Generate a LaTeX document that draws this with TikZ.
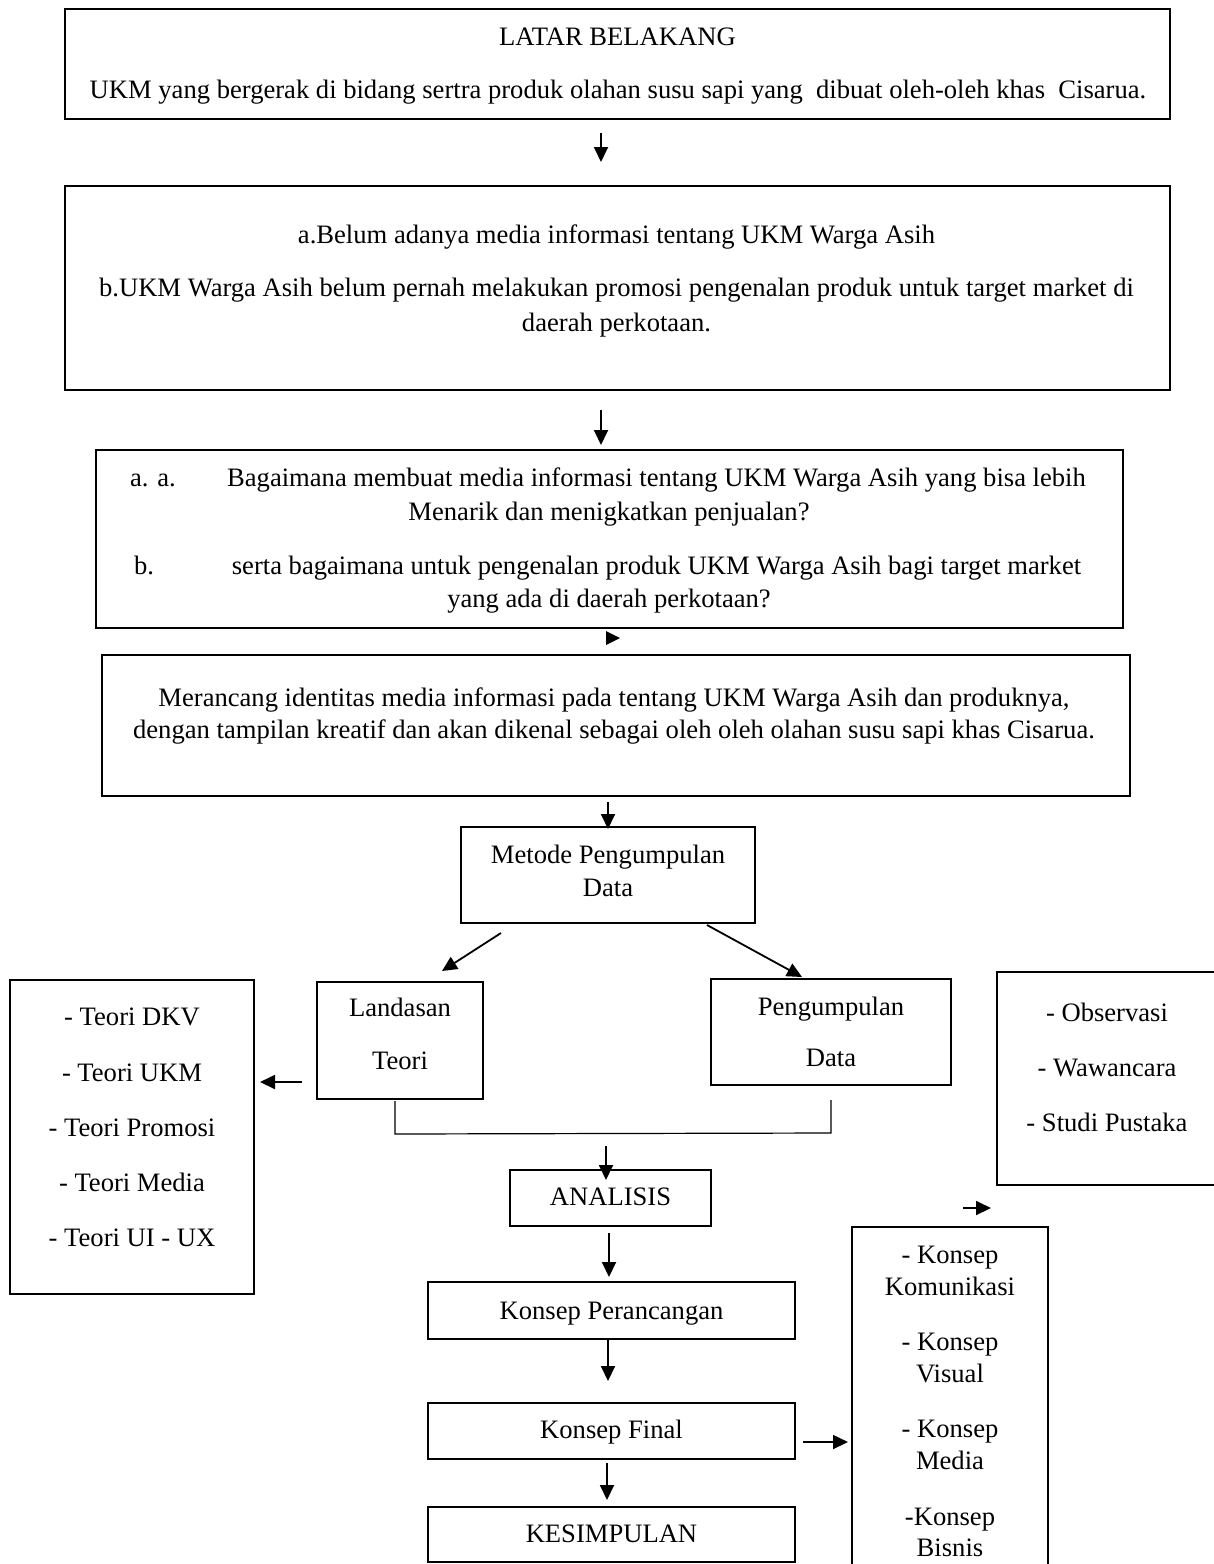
\documentclass[tikz,border=0pt]{standalone}
\usepackage{fontspec}
\setmainfont{Liberation Serif}
\usetikzlibrary{arrows.meta,calc,fit}
\begin{document}
\begin{tikzpicture}[x=0.5pt,y=-0.5pt,
  box/.style={draw,line width=1.2pt,inner sep=0pt,outer sep=0pt},
  txt/.style={inner sep=0pt,outer sep=0pt,text height=11pt,text depth=2.5pt,font=\fontsize{13.3}{16}\selectfont},
  arr/.style={line width=0.9pt,-{Triangle[length=7.5pt,width=7pt]}},
  thin/.style={line width=0.6pt}]
\useasboundingbox (0,0) rectangle (1214,1564);
\fill[white] (0,0) rectangle (1214,1564);

% boxes
\node[box,fit={(65,9) (1170,119)}] (b1) {};
\node[box,fit={(65,186) (1170,390)}] (b2) {};
\node[box,fit={(96,450) (1123,628)}] (b3) {};
\node[box,fit={(102,655) (1130,796)}] (b4) {};
\node[box,fit={(461,827) (755,923)}] (m) {};
\node[box,fit={(317,982) (483,1099)}] (lt) {};
\node[box,fit={(711,979) (951,1085)}] (pd) {};
\node[box,fit={(997,972) (1250,1185)}] (ob) {};
\node[box,fit={(10,980) (254,1294)}] (tb) {};
\node[box,fit={(510,1170) (711,1226)}] (an) {};
\node[box,fit={(428,1282) (795,1339)}] (kp) {};
\node[box,fit={(428,1403) (795,1459)}] (kf) {};
\node[box,fit={(428,1507) (795,1562)}] (kes) {};
\node[box,fit={(852,1227) (1048,1590)}] (kb) {};

% texts
\node[txt] (t1a) at (617.5,37) {LATAR BELAKANG};
\node[txt] (t1b) at (618,90) {UKM yang bergerak di bidang sertra produk olahan susu sapi yang\ \ dibuat oleh-oleh khas\ \ Cisarua.};
\node[txt] (t2a) at (616.5,235) {a.Belum adanya media informasi tentang UKM Warga Asih};
\node[txt] (t2b) at (616.5,288) {b.UKM Warga Asih belum pernah melakukan promosi pengenalan produk untuk target market di};
\node[txt] (t2c) at (616.5,323) {daerah perkotaan.};
\node[txt,anchor=west] (t3a) at (130,478) {a. a.};
\node[txt] (t3b) at (656.5,478) {Bagaimana membuat media informasi tentang UKM Warga Asih yang bisa lebih};
\node[txt] (t3c) at (609,512) {Menarik dan menigkatkan penjualan?};
\node[txt,anchor=west] (t3d) at (134,566) {b.};
\node[txt] (t3e) at (656.5,566) {serta bagaimana untuk pengenalan produk UKM Warga Asih bagi target market};
\node[txt] (t3f) at (609,599) {yang ada di daerah perkotaan?};
\node[txt] (t4a) at (614,698) {Merancang identitas media informasi pada tentang UKM Warga Asih dan produknya,};
\node[txt] (t4b) at (614,730) {dengan tampilan kreatif dan akan dikenal sebagai oleh oleh olahan susu sapi khas Cisarua.};
\node[txt] (tm1) at (608,855) {Metode Pengumpulan};
\node[txt] (tm2) at (608,888) {Data};
\node[txt] (tl1) at (400,1008) {Landasan};
\node[txt] (tl2) at (400,1061) {Teori};
\node[txt] (tp1) at (831,1007) {Pengumpulan};
\node[txt] (tp2) at (831,1058) {Data};
\node[txt] (to1) at (1107,1013) {- Observasi};
\node[txt] (to2) at (1107,1068) {- Wawancara};
\node[txt] (to3) at (1107,1123) {- Studi Pustaka};
\node[txt] (tt1) at (132,1017) {- Teori DKV};
\node[txt] (tt2) at (132,1073) {- Teori UKM};
\node[txt] (tt3) at (132,1128) {- Teori Promosi};
\node[txt] (tt4) at (132,1183) {- Teori Media};
\node[txt] (tt5) at (132,1238) {- Teori UI - UX};
\node[txt] (tan) at (610.5,1197) {ANALISIS};
\node[txt] (tkp) at (611.5,1311) {Konsep Perancangan};
\node[txt] (tkf) at (611.5,1430) {Konsep Final};
\node[txt] (tks) at (611.5,1534) {KESIMPULAN};
\node[txt] (tk1) at (950,1255) {- Konsep};
\node[txt] (tk2) at (950,1287) {Komunikasi};
\node[txt] (tk3) at (950,1342) {- Konsep};
\node[txt] (tk4) at (950,1374) {Visual};
\node[txt] (tk5) at (950,1429) {- Konsep};
\node[txt] (tk6) at (950,1461) {Media};
\node[txt] (tk7) at (950,1517) {-Konsep};
\node[txt] (tk8) at (950,1548) {Bisnis};

% connectors
\draw[arr] ($(b1.south)+(-16.5,14)$) -- ($(b2.north)+(-16.5,-24)$);
\draw[arr] ($(b2.south)+(-16.5,20)$) -- ($(b3.north)+(-8.5,-5)$);
\fill ($(b3.south)+(-3.5,3)$) -- ($(b3.south)+(10.5,10)$) -- ($(b3.south)+(-3.5,17)$) -- cycle;
\draw[arr] ($(b4.south)+(-8,6)$) -- ($(m.north)+(0,2)$);
\draw[arr] ($(m.south)+(-107,10)$) -- ($(lt.north)+(42,-11)$);
\draw[arr] ($(m.south)+(99,2)$) -- ($(pd.north)+(-29,-2)$);
\draw[arr] ($(lt.west)+(-15,41.5)$) -- ($(tb.east)+(6,-55)$);
\draw[thin] ($(lt.south)+(-5,2)$) -- ($(lt.south)+(-5,35)$) -- ($(pd.south)+(0,48)$) -- ($(pd.south)+(0,15)$);
\draw[arr] ($(an.north)+(-4.5,-24)$) -- ($(an.north)+(-4.5,10)$);
\draw[arr] ($(an.south)+(-1.5,7)$) -- ($(kp.north)+(-2.5,-5)$);
\draw[arr] ($(kp.south)+(-3.5,0)$) -- ($(kf.north)+(-3.5,-22)$);
\draw[arr] ($(kf.south)+(-4.5,4)$) -- ($(kes.north)+(-4.5,-7)$);
\draw[arr] ($(kf.east)+(8,11)$) -- ($(kb.west)+(-4,33.5)$);
\draw[arr] ($(kb.north)+(13,-19)$) -- ($(kb.north)+(41,-19)$);
\end{tikzpicture}
\end{document}
